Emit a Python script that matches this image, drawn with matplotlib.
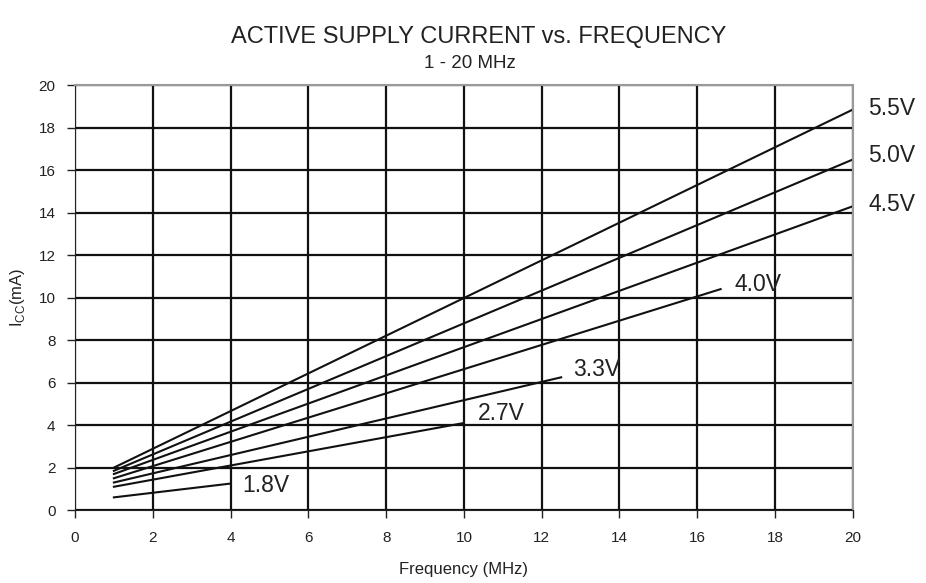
import matplotlib.pyplot as plt

plt.rcParams['font.family'] = ['Liberation Sans', 'DejaVu Sans']

voltages = ['5.5V', '5.0V', '4.5V', '4.0V', '3.3V', '2.7V', '1.8V']
f_start = [1, 1, 1, 1, 1, 1, 1]
f_end = [20, 20, 20, 16.6, 12.5, 10, 4]
icc_start = [2.0, 1.85, 1.7, 1.5, 1.3, 1.1, 0.6]
icc_end = [18.85, 16.5, 14.3, 10.4, 6.25, 4.1, 1.25]
label_x = [20.4, 20.4, 20.4, 16.95, 12.8, 10.35, 4.3]
label_y = [18.9, 16.7, 14.4, 10.6, 6.6, 4.55, 1.15]

fig = plt.figure(figsize=(9.26, 5.83), dpi=100)
ax = fig.add_axes([0.081, 0.125, 0.84, 0.729])

for i in range(len(voltages)):
    ax.plot([f_start[i], f_end[i]], [icc_start[i], icc_end[i]], color='#111111', lw=1.5)
    ax.text(label_x[i], label_y[i], voltages[i], fontsize=16.5, color='#222222',
            va='center', ha='left')

ax.set_xlim(0, 20)
ax.set_ylim(0, 20)
ax.set_xticks(range(0, 21, 2))
ax.set_yticks(range(0, 21, 2))
ax.grid(True, color='#111111', lw=1.6)
ax.set_axisbelow(True)
ax.tick_params(direction='out', length=6, width=1, labelsize=11, colors='#222222')
ax.tick_params(axis='x', pad=9)
ax.tick_params(axis='y', pad=8)
for s in ['top', 'right']:
    ax.spines[s].set_color('#999999')
    ax.spines[s].set_linewidth(1.5)
for s in ['left', 'bottom']:
    ax.spines[s].set_color('#222222')

ax.set_xlabel('Frequency (MHz)', fontsize=12, color='#222222', labelpad=12)
ax.set_ylabel('I$_{\\mathregular{CC}}$(mA)', fontsize=12, color='#222222', labelpad=8)
fig.text(0.517, 0.936, 'ACTIVE SUPPLY CURRENT vs. FREQUENCY', ha='center', va='center',
         fontsize=17, color='#222222')
fig.text(0.507, 0.891, '1 - 20 MHz', ha='center', va='center', fontsize=13.5, color='#222222')

fig.savefig('out.png', dpi=100)
